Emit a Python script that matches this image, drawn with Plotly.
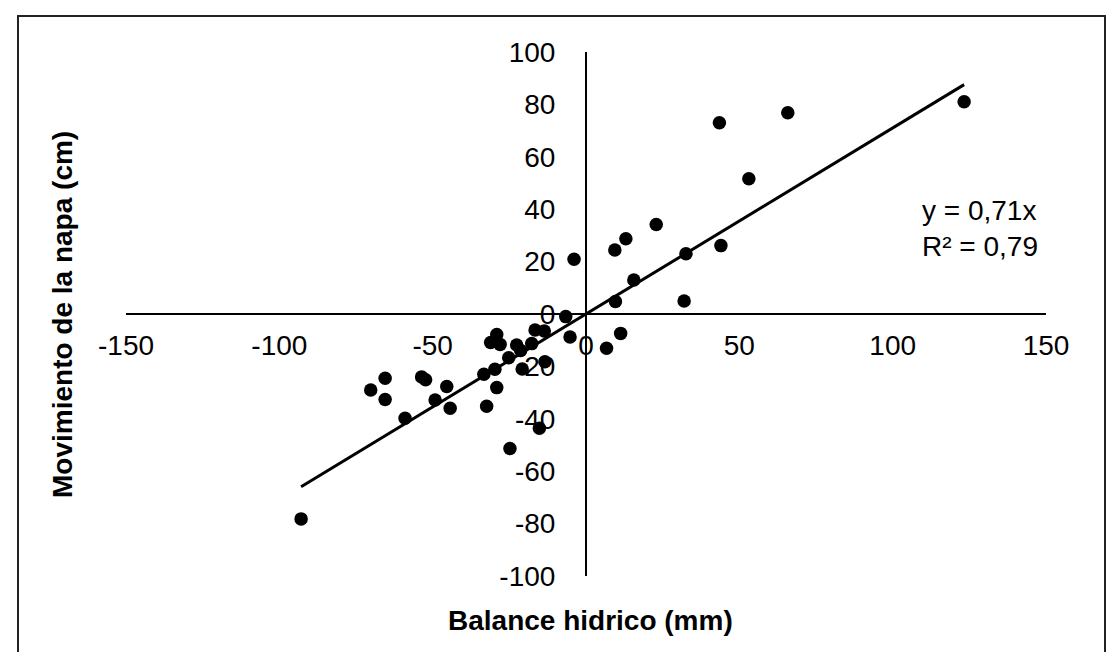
import plotly.graph_objects as go

# Data
balance_mm = [123.3, 65.8, 43.5, 53.1, 22.9, 13.0, 9.4, -3.9, 44.0, 32.6, 15.6, 9.6, 32.0,
              -6.6, -5.2, 11.3, 6.7, -16.6, -13.6, -17.7, -22.6, -21.3, -29.1, -31.1, -28.0,
              -25.2, -13.4, -20.8, -29.7, -33.3, -29.1, -32.4, -15.2, -24.8, -45.4, -49.2,
              -44.3, -53.6, -52.3, -59.0, -65.5, -65.5, -70.2, -92.9]
napa_cm = [81.0, 76.8, 73.0, 51.6, 34.2, 28.7, 24.4, 20.9, 26.1, 23.0, 13.0, 4.8, 5.0,
           -1.0, -8.8, -7.4, -13.1, -6.1, -6.5, -11.3, -11.8, -13.9, -7.8, -10.9, -11.6,
           -16.7, -18.2, -21.0, -21.1, -23.0, -28.1, -35.2, -43.6, -51.3, -27.7, -32.8,
           -36.0, -24.0, -25.1, -39.8, -24.5, -32.6, -29.0, -78.2]
SLOPE = 0.71
R2 = 0.79
x_ticks = [-150, -100, -50, 0, 50, 100, 150]
y_ticks = [-100, -80, -60, -40, -20, 0, 20, 40, 60, 80, 100]

FONT = "Liberation Sans, Arial, sans-serif"
OFF = 8  # page body margin
W, H = 1116 - OFF, 652 - OFF
PW, PH = 920, 524
ML, MT = 126 - OFF, 52 - OFF
MR, MB = W - ML - PW, H - MT - PH


def px(xp):
    return (xp - OFF - ML) / PW


def py(yp):
    return (MT + PH - (yp - OFF)) / PH


fig = go.Figure()
fig.add_trace(go.Scatter(
    x=balance_mm, y=napa_cm, mode="markers",
    marker=dict(color="black", size=13.5), showlegend=False, cliponaxis=False))

xmin, xmax = min(balance_mm), max(balance_mm)
fig.add_trace(go.Scatter(
    x=[xmin, xmax], y=[SLOPE * xmin, SLOPE * xmax], mode="lines",
    line=dict(color="black", width=3), showlegend=False))

fig.update_layout(
    width=W, height=H,
    margin=dict(l=ML, r=MR, t=MT, b=MB),
    paper_bgcolor="white", plot_bgcolor="white",
    font=dict(family=FONT, size=28, color="black"),
    xaxis=dict(range=[-150, 150], tickvals=x_ticks, ticktext=[str(v) for v in x_ticks],
               anchor="free", position=0.5, showline=True, linecolor="black", linewidth=2,
               showgrid=False, zeroline=False, ticks="", ticklabelstandoff=6,
               tickfont=dict(size=28)),
    yaxis=dict(range=[-100, 100], tickvals=y_ticks, ticktext=[str(v) for v in y_ticks],
               anchor="free", position=0.5, showline=True, linecolor="black", linewidth=2,
               showgrid=False, zeroline=False, ticks="", ticklabelstandoff=24,
               tickfont=dict(size=28)),
    shapes=[dict(type="rect", xref="paper", yref="paper",
                 x0=px(18), x1=px(1105), y0=py(16), y1=py(700),
                 line=dict(color="#222222", width=2), fillcolor="rgba(0,0,0,0)", layer="below")],
    annotations=[
        dict(text="<b>Balance hidrico (mm)</b>", xref="paper", yref="paper",
             x=px(590), y=py(620), showarrow=False, xanchor="center", yanchor="middle",
             font=dict(size=28)),
        dict(text="<b>Movimiento de la napa (cm)</b>", xref="paper", yref="paper",
             x=px(62), y=py(315), showarrow=False, xanchor="center", yanchor="middle",
             textangle=-90, font=dict(size=28)),
        dict(text=f"y = {str(SLOPE).replace('.', ',')}x<br>R² = {str(R2).replace('.', ',')}",
             xref="paper", yref="paper", x=px(920), y=py(228), showarrow=False,
             xanchor="left", yanchor="middle", align="left", font=dict(size=28)),
    ],
)

fig.write_html("out.html")
